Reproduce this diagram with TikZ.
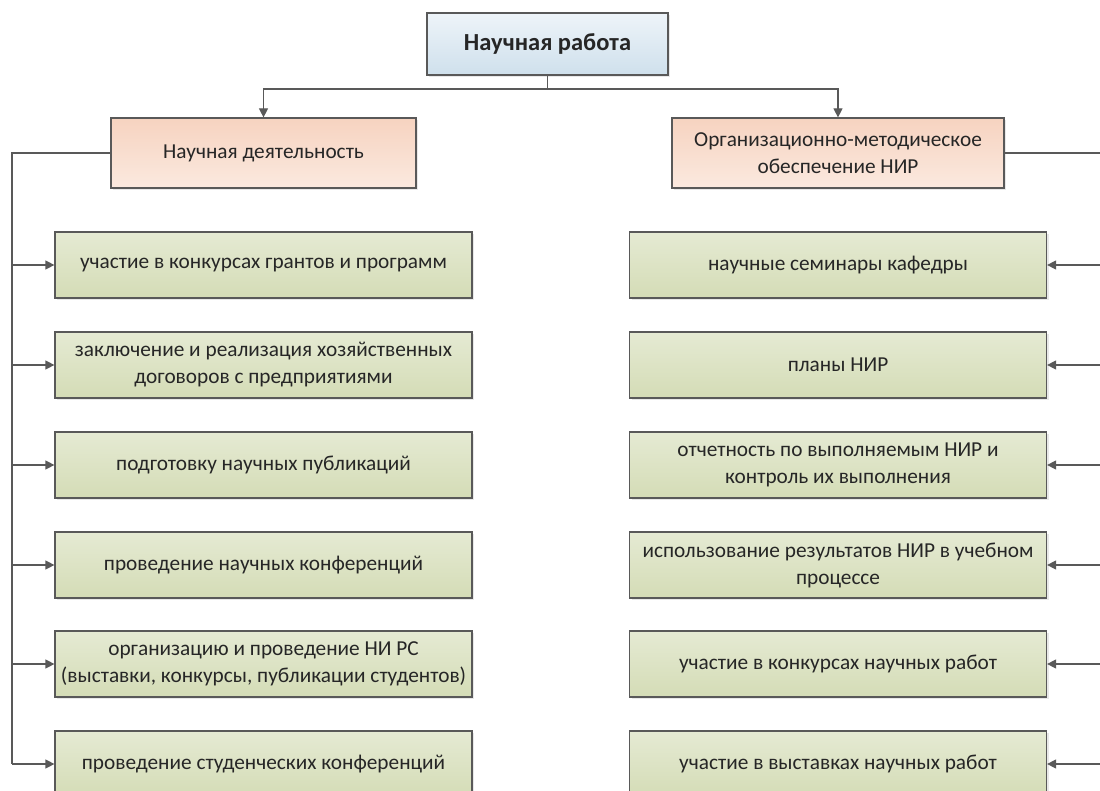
\documentclass[tikz,border=0pt]{standalone}
\usepackage{fontspec}
\setmainfont{Carlito}
\usetikzlibrary{arrows.meta,shadows}
\definecolor{linec}{HTML}{595959}
\definecolor{txt}{HTML}{262626}
\definecolor{blueA}{HTML}{EEF4F9}
\definecolor{blueB}{HTML}{CFE0EC}
\definecolor{orA}{HTML}{FBE9DF}
\definecolor{orB}{HTML}{F6D3C0}
\definecolor{grA}{HTML}{E5EAD3}
\definecolor{grB}{HTML}{D4DCB6}
\tikzset{
  box/.style={draw=linec, line width=1.2pt, text=txt, align=center,
    font=\fontsize{21.3}{27}\selectfont,
    drop shadow={opacity=0.18, shadow xshift=2pt, shadow yshift=-2pt}},
  topbox/.style={box, top color=blueA, bottom color=blueB,
    minimum width=241pt, minimum height=62pt, font=\bfseries\fontsize{24.5}{28}\selectfont},
  lvl/.style={box, top color=orB, bottom color=orA, minimum height=70pt},
  gbox/.style={box, top color=grA, bottom color=grB, minimum width=417pt, minimum height=66pt, inner sep=1pt},
  conn/.style={draw=linec, line width=1.2pt},
  arr/.style={conn, -{Triangle[length=9pt,width=9pt]}}
}
\begin{document}
\begin{tikzpicture}[x=1pt,y=-1pt]
\useasboundingbox (0,0) rectangle (1100,791);
\clip (0,0) rectangle (1100,791);
\fill[white] (0,0) rectangle (1100,791);
\node[topbox] (top) at (547.5,44) {Научная работа};
\node[lvl, minimum width=305pt] (ld) at (263.5,153) {Научная деятельность};
\node[lvl, minimum width=332pt] (rd) at (838,153) {Организационно-методическое\\обеспечение НИР};

\node[gbox] (l1) at (263.5,265) {участие в конкурсах грантов и программ};
\node[gbox] (l2) at (263.5,365) {заключение и реализация хозяйственных\\договоров с предприятиями};
\node[gbox] (l3) at (263.5,465) {подготовку научных публикаций};
\node[gbox] (l4) at (263.5,565) {проведение научных конференций};
\node[gbox] (l5) at (263.5,664) {организацию и проведение НИ РС\\(выставки, конкурсы, публикации студентов)};
\node[gbox] (l6) at (263.5,764) {проведение студенческих конференций};

\node[gbox] (r1) at (838,265) {научные семинары кафедры};
\node[gbox] (r2) at (838,365) {планы НИР};
\node[gbox] (r3) at (838,465) {отчетность по выполняемым НИР и\\контроль их выполнения};
\node[gbox] (r4) at (838,565) {использование результатов НИР в учебном\\процессе};
\node[gbox] (r5) at (838,664) {участие в конкурсах научных работ};
\node[gbox] (r6) at (838,764) {участие в выставках научных работ};

\coordinate (split) at (547.5,89);
\coordinate (lb) at (12,153);
\coordinate (rb) at (1112,153);

\draw[conn] (top.south) -- (split);
\draw[arr] (split) -| (ld.north);
\draw[arr] (split) -| (rd.north);

\draw[conn] (ld.west) -- (lb) -- (lb |- l6.west);
\draw[conn] (rd.east) -- (rb) -- (rb |- r6.east);
\foreach \n in {l1,l2,l3,l4,l5,l6} {\draw[arr] (lb |- \n.west) -- (\n.west);}
\foreach \n in {r1,r2,r3,r4,r5,r6} {\draw[arr] (rb |- \n.east) -- (\n.east);}
\end{tikzpicture}
\end{document}
